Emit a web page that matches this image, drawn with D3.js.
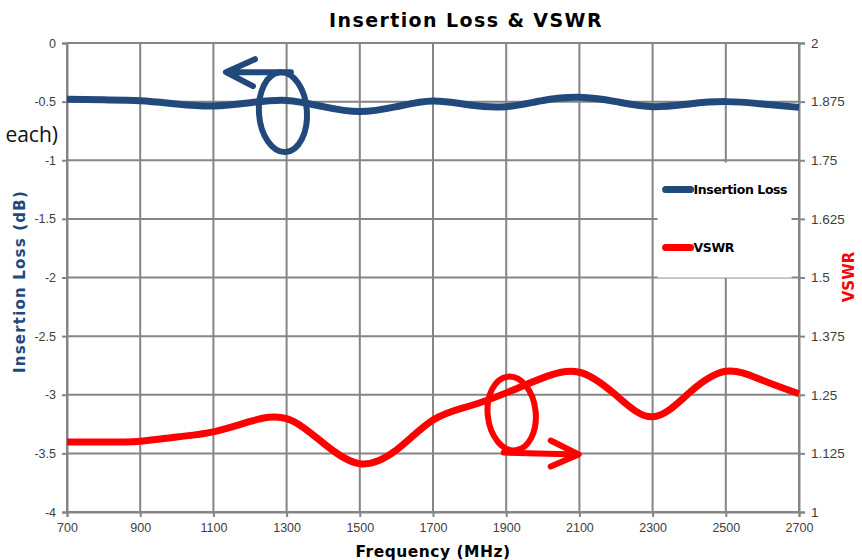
<!DOCTYPE html>
<html>
<head>
<meta charset="utf-8">
<script src="https://cdn.jsdelivr.net/npm/d3@7/dist/d3.min.js"></script>
<style>
  html, body { margin: 0; padding: 0; background: #fff; }
  svg { display: block; }
  .tick text { font-family: "Liberation Sans", Arial, sans-serif; font-size: 12.5px; fill: #404040; }
</style>
</head>
<body>
<svg id="chart" width="862" height="560"></svg>
<script>
  // frequency (MHz) sample points
  var freq = [700, 800, 900, 1000, 1100, 1200, 1300, 1400, 1500, 1600, 1700, 1800, 1900, 2000, 2100, 2200, 2300, 2400, 2500, 2600, 2700];
  var ilValues = [-0.48, -0.485, -0.492, -0.52, -0.537, -0.51, -0.49, -0.543, -0.585, -0.543, -0.495, -0.529, -0.543, -0.49, -0.463, -0.5, -0.543, -0.52, -0.5, -0.52, -0.549];
  var vswrValues = [1.149, 1.149, 1.151, 1.16, 1.171, 1.193, 1.199, 1.147, 1.103, 1.132, 1.196, 1.226, 1.254, 1.286, 1.298, 1.249, 1.203, 1.254, 1.3, 1.281, 1.252];

  var xTicks = [700, 900, 1100, 1300, 1500, 1700, 1900, 2100, 2300, 2500, 2700];
  var ilTicks = [0, -0.5, -1, -1.5, -2, -2.5, -3, -3.5, -4];
  var vswrTicks = [2, 1.875, 1.75, 1.625, 1.5, 1.375, 1.25, 1.125, 1];

  var seriesNames = ['Insertion Loss', 'VSWR'];
  var seriesColors = ['#22497c', '#ff0000'];

  var margin = { top: 43, right: 63, bottom: 48, left: 67 };
  var width = 862 - margin.left - margin.right;
  var height = 560 - margin.top - margin.bottom;

  var svg = d3.select('#chart');
  var g = svg.append('g')
    .attr('transform', 'translate(' + margin.left + ',' + margin.top + ')');

  var x = d3.scaleLinear().domain([700, 2700]).range([0, width]);
  var yIL = d3.scaleLinear().domain([-4, 0]).range([height, 0]);
  var yV = d3.scaleLinear().domain([1, 2]).range([height, 0]);

  var gridColor = '#858585';

  // grid
  g.selectAll('.vgrid')
    .data(xTicks)
    .enter()
    .append('line')
    .attr('class', 'vgrid')
    .attr('x1', function(d) { return x(d); })
    .attr('x2', function(d) { return x(d); })
    .attr('y1', 0)
    .attr('y2', height)
    .style('stroke', gridColor)
    .style('stroke-width', 2);
  g.selectAll('.hgrid')
    .data(ilTicks)
    .enter()
    .append('line')
    .attr('class', 'hgrid')
    .attr('x1', 0)
    .attr('x2', width)
    .attr('y1', function(d) { return yIL(d); })
    .attr('y2', function(d) { return yIL(d); })
    .style('stroke', gridColor)
    .style('stroke-width', 2);

  // axes
  var xAxis = g.append('g')
    .attr('transform', 'translate(0,' + height + ')')
    .call(d3.axisBottom(x).tickValues(xTicks).tickSize(5).tickPadding(6).tickFormat(d3.format('d')));
  var yAxisL = g.append('g')
    .call(d3.axisLeft(yIL).tickValues(ilTicks).tickSize(5).tickPadding(6).tickFormat(function(d) { return String(d); }));
  var yAxisR = g.append('g')
    .attr('transform', 'translate(' + width + ',0)')
    .call(d3.axisRight(yV).tickValues(vswrTicks).tickSize(6).tickPadding(6).tickFormat(function(d) { return String(d); }));
  [xAxis, yAxisL, yAxisR].forEach(function(a) {
    a.select('.domain').style('stroke', gridColor).style('stroke-width', 2);
    a.selectAll('.tick line').style('stroke', gridColor).style('stroke-width', 2);
  });
  yAxisR.selectAll('.tick text').style('font-size', '13.5px');

  // legend box (white, covers grid)
  var legend = g.append('g')
    .attr('transform', 'translate(' + (x(2300) + 5) + ',' + (yIL(-1.02)) + ')');
  legend.append('rect')
    .attr('width', 134)
    .attr('height', 115)
    .style('fill', '#fff');
  legend.selectAll('.leg')
    .data(seriesNames)
    .enter()
    .append('g')
    .attr('class', 'leg')
    .attr('transform', function(d, i) { return 'translate(0,' + (27 + i * 58) + ')'; })
    .each(function(d, i) {
      var item = d3.select(this);
      item.append('line')
        .attr('x1', 8).attr('x2', 33)
        .style('stroke', seriesColors[i])
        .style('stroke-width', 7)
        .style('stroke-linecap', 'round');
      item.append('text')
        .attr('x', 36)
        .attr('dy', '0.35em')
        .style('font-family', '"DejaVu Sans", Verdana, sans-serif')
        .style('font-size', '12.5px')
        .style('font-weight', 'bold')
        .style('letter-spacing', '-0.4px')
        .text(d);
    });

  // series
  var lineIL = d3.line()
    .x(function(d, i) { return x(freq[i]); })
    .y(function(d) { return yIL(d); })
    .curve(d3.curveNatural);
  var lineV = d3.line()
    .x(function(d, i) { return x(freq[i]); })
    .y(function(d) { return yV(d); })
    .curve(d3.curveNatural);

  g.append('path')
    .datum(ilValues)
    .attr('d', lineIL)
    .style('fill', 'none')
    .style('stroke', seriesColors[0])
    .style('stroke-width', 7);
  g.append('path')
    .datum(vswrValues)
    .attr('d', lineV)
    .style('fill', 'none')
    .style('stroke', seriesColors[1])
    .style('stroke-width', 7);

  // hand-drawn annotations: circle + arrow pointing to each axis
  function annotate(color, cx, cy, rx, ry, tilt, arrow) {
    var a = g.append('g');
    a.append('ellipse')
      .attr('transform', 'translate(' + cx + ',' + cy + ') rotate(' + tilt + ')')
      .attr('rx', rx).attr('ry', ry)
      .style('fill', 'none')
      .style('stroke', color)
      .style('stroke-width', 6);
    a.append('path')
      .attr('d', arrow)
      .style('fill', 'none')
      .style('stroke', color)
      .style('stroke-width', 6)
      .style('stroke-linecap', 'round')
      .style('stroke-linejoin', 'round');
  }
  var bx = x(1290), by = yIL(-0.59);
  annotate(seriesColors[0], bx, by, 24, 40, -4,
    'M' + (bx + 8) + ',' + (by - 40) + ' L' + (bx - 56) + ',' + (by - 40) +
    ' M' + (bx - 28) + ',' + (by - 53) + ' L' + (bx - 57) + ',' + (by - 40) + ' L' + (bx - 30) + ',' + (by - 26));
  var rx0 = x(1915), ry0 = yV(1.21);
  annotate(seriesColors[1], rx0, ry0, 24, 37, -6,
    'M' + (rx0 - 8) + ',' + (ry0 + 39) + ' L' + (rx0 + 66) + ',' + (ry0 + 41) +
    ' M' + (rx0 + 39) + ',' + (ry0 + 27) + ' L' + (rx0 + 67) + ',' + (ry0 + 41) + ' L' + (rx0 + 39) + ',' + (ry0 + 53));

  // titles
  svg.append('text')
    .attr('x', 466)
    .attr('y', 27)
    .attr('text-anchor', 'middle')
    .style('font-family', 'Verdana, "DejaVu Sans", sans-serif')
    .style('font-size', '19px')
    .style('font-weight', 'bold')
    .style('letter-spacing', '1.4px')
    .text('Insertion Loss & VSWR');
  svg.append('text')
    .attr('x', margin.left + width / 2)
    .attr('y', 557)
    .attr('text-anchor', 'middle')
    .style('font-family', 'Verdana, "DejaVu Sans", sans-serif')
    .style('font-size', '15.5px')
    .style('font-weight', 'bold')
    .style('letter-spacing', '0.5px')
    .text('Frequency (MHz)');
  svg.append('text')
    .attr('transform', 'translate(25,' + (margin.top + height / 2 + 4) + ') rotate(-90)')
    .attr('text-anchor', 'middle')
    .style('font-family', 'Verdana, "DejaVu Sans", sans-serif')
    .style('font-size', '15px')
    .style('font-weight', 'bold')
    .style('letter-spacing', '1.2px')
    .style('fill', '#1f497d')
    .text('Insertion Loss (dB)');
  svg.append('text')
    .attr('transform', 'translate(854,277) rotate(-90)')
    .attr('text-anchor', 'middle')
    .style('font-family', 'Verdana, "DejaVu Sans", sans-serif')
    .style('font-size', '15px')
    .style('font-weight', 'bold')
    .style('fill', '#ff0000')
    .text('VSWR');

  // stray text fragment at left edge
  svg.append('text')
    .attr('x', 58)
    .attr('y', 142)
    .attr('text-anchor', 'end')
    .style('font-family', '"Open Sans", "DejaVu Sans", sans-serif')
    .style('font-size', '21px')
    .style('fill', '#111')
    .text('each)');
</script>
</body>
</html>
